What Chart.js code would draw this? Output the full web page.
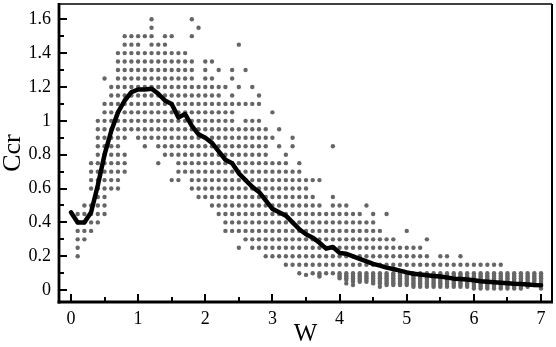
<!DOCTYPE html>
<html><head><meta charset="utf-8">
<script src="https://cdn.jsdelivr.net/npm/chart.js@4.4.1/dist/chart.umd.min.js"></script>
<style>html,body{margin:0;padding:0;background:#fff;}canvas{display:block;}</style>
</head><body>
<canvas id="c" width="556" height="347"></canvas>
<script>
// ---- scatter data: for each row value of Ccr, the W positions (in tenths of W) ----
const rowY = [1.60,1.55,1.50,1.45,1.40,1.35,1.30,1.25,1.20,1.15,1.10,1.05,1.00,0.95,0.90,0.85,0.80,0.75,0.70,0.65,0.60,0.55,0.50,0.45,0.40,0.35,0.30,0.25,0.20,0.15,0.10];
const rowX = [
  [12,18],
  [12,19],
  [8,9,10,11,12,14,15,18],
  [8,9,10,12,13,14,25],
  [7,8,9,10,11,12,13,14,15,16,17],
  [7,8,9,10,11,12,13,14,15,16,17,18,20,21],
  [7,8,9,10,11,12,13,14,15,16,17,18,20,22,24,26],
  [5,7,8,9,10,11,12,13,14,15,16,17,18,20,21,24],
  [6,7,8,9,10,11,12,13,14,15,16,17,18,19,20,21,22,23,25,27],
  [6,7,8,9,10,11,12,13,14,15,16,17,18,19,20,21,22,24,28],
  [5,6,7,8,9,10,11,12,13,14,15,16,17,18,19,20,21,22,23,24,25,26,27,28],
  [5,6,7,8,9,10,11,12,13,14,15,16,17,18,19,20,21,22,23,24,30],
  [4,5,6,7,8,9,10,11,12,13,14,15,16,17,18,19,20,21,22,23,24,26,27,28],
  [4,5,6,7,8,9,10,11,12,13,14,15,16,17,18,19,20,21,22,23,24,25,26,27,28,29,31],
  [4,5,6,7,8,10,11,12,13,14,15,16,17,18,19,20,21,22,23,24,25,26,27,28,29,30,33],
  [4,5,6,7,11,13,14,15,16,17,18,19,20,21,22,23,24,25,26,27,28,29,31,33,39],
  [4,5,6,7,8,14,15,16,17,18,19,20,21,22,23,24,25,26,27,28,29,32],
  [3,4,5,6,7,8,13,16,17,18,19,20,21,22,23,24,25,26,27,28,29,30,31,32,34],
  [3,4,5,6,7,8,16,17,18,19,20,21,22,23,24,25,26,27,28,29,30,31,32,33,34],
  [3,4,5,6,7,15,16,18,19,20,21,22,23,24,25,26,27,28,29,30,31,32,33,34,35,36,37],
  [3,4,5,6,7,18,19,20,21,22,23,24,25,26,27,28,29,30,31,32,33,34,35],
  [4,5,19,20,21,22,23,24,25,26,27,28,29,30,31,32,33,34,35,36,39],
  [2,3,4,5,21,22,23,24,25,26,27,28,29,30,31,32,33,34,35,36,37,39,40,41,44],
  [1,2,3,4,5,22,23,24,25,26,27,28,29,30,31,32,33,34,35,36,37,38,39,40,41,42,43,45,47],
  [1,2,3,4,23,24,25,26,27,28,29,30,31,32,33,34,35,36,37,38,39,40,41,42,43,44,45],
  [1,2,3,23,24,25,26,27,28,29,30,31,32,33,34,35,36,37,38,39,40,41,42,43,44,45,46,50],
  [1,2,26,27,28,29,30,31,32,33,34,35,36,37,38,39,40,41,42,43,44,45,46,47,48,53],
  [1,25,27,28,29,30,31,32,33,34,35,36,37,38,39,40,41,42,43,44,45,46,47,48,49,50,51,52],
  [1,29,30,31,32,33,34,35,36,37,38,39,40,41,42,43,44,45,46,47,48,49,50,51,52,53,55,56,58],
  [32,33,34,35,36,37,38,39,40,41,42,43,44,45,46,47,48,49,50,51,52,53,54,55,56,57,58,59,60,61,62,63,64],
  [34,36,38,39]
];
// ---- low-value columns: W (tenths) and their Ccr values (hundredths) ----
const colX = [35,37,40,41,42,43,44,45,46,47,48,49,50,51,52,53,54,55,56,57,58,59,60,61,62,63,64,65,66,67,68,69,70];
const colY = [
  [9],[8,9,10],[7,8,9,10],[4,6,7,8,9,10],[3,5,6,7,8,9,10],[5,6,7,8,9,10],[5,6,7,8,9,10],[4,5,6,7,8,9,10],
  [2,4,5,6,7,8,9,10],[3,4,5,6,7,8,9,10],[3,4,5,6,7,8,9,10],[3,4,5,6,7,8,9,10],[3,4,5,6,7,8,9,10],
  [2,3,4,5,6,7,8,9,10],[2,3,4,5,6,7,8,9,10],[2,3,4,5,6,7,8,9,10],[2,3,4,5,6,7,8,9,10],[2,3,4,5,6,7,8,9,10],
  [2,3,4,5,6,7,8,9,10],[2,3,4,5,6,7,8,9,10],[2,3,4,5,6,7,8,9,10],[2,3,4,5,6,7,8,9,10],[1,2,3,4,5,6,7,8,9,10],
  [1,2,3,4,5,6,7,8,9,10],[1,2,3,4,5,6,7,8,9,10],[1,2,3,4,5,6,7,8,9,10],[1,2,3,4,5,6,7,8,9,10],[1,2,3,4,5,6,7,8,9,10],
  [1,2,3,4,5,6,7,8,9,10],[1,2,3,4,5,6,7,8,9,10],[2,3,4,5,6,7,8,9,10],[3,4,5,6,7,8,9,10],[1,2,3,4,5,6,7,8,9,10]
];
// ---- mean curve ----
const lineX = [0,0.1,0.2,0.3,0.4,0.5,0.6,0.7,0.8,0.9,1.0,1.1,1.2,1.3,1.4,1.5,1.6,1.7,1.8,1.9,2.0,2.1,2.2,2.3,2.4,2.5,2.6,2.7,2.8,2.9,3.0,3.1,3.2,3.3,3.4,3.5,3.6,3.7,3.8,3.9,4.0,4.1,4.2,4.3,4.4,4.5,4.6,4.7,4.8,4.9,5.0,5.1,5.2,5.3,5.4,5.5,5.6,5.7,5.8,5.9,6.0,6.1,6.2,6.3,6.4,6.5,6.6,6.7,6.8,6.9,7.0];
const lineY = [0.46,0.40,0.40,0.46,0.62,0.80,0.94,1.05,1.12,1.17,1.185,1.185,1.19,1.16,1.12,1.10,1.02,1.04,0.97,0.92,0.90,0.87,0.82,0.77,0.75,0.69,0.65,0.61,0.58,0.53,0.48,0.46,0.44,0.40,0.36,0.33,0.31,0.28,0.245,0.255,0.22,0.215,0.20,0.185,0.17,0.155,0.145,0.133,0.125,0.115,0.105,0.097,0.093,0.088,0.084,0.080,0.075,0.068,0.066,0.063,0.058,0.053,0.050,0.047,0.044,0.041,0.038,0.036,0.034,0.031,0.029];
// ---- ticks ----
const xTicks = [0,1,2,3,4,5,6,7];
const xMinorTicks = [0.5,1.5,2.5,3.5,4.5,5.5,6.5];
const yTicks = [0,0.2,0.4,0.6,0.8,1,1.2,1.4,1.6];
const yTickLabels = ['0','0.2','0.4','0.6','0.8','1','1.2','1.4','1.6'];
const yMinorTicks = [0.1,0.3,0.5,0.7,0.9,1.1,1.3,1.5];
const xTitle = 'W';
const yTitle = 'Ccr';

const dots = [];
rowY.forEach((yv, i) => rowX[i].forEach(t => dots.push({x: t / 10, y: yv})));
colX.forEach((t, i) => colY[i].forEach(h => dots.push({x: t / 10, y: h / 100})));
const curve = lineX.map((xv, i) => ({x: xv, y: lineY[i]}));

const FONT = 'Liberation Serif';

const framePlugin = {
  id: 'framePlugin',
  afterDraw(chart) {
    const {ctx, chartArea: a, scales: {x, y}} = chart;
    ctx.save();
    ctx.strokeStyle = '#000';
    const seg = (x1, y1, x2, y2) => { ctx.beginPath(); ctx.moveTo(x1, y1); ctx.lineTo(x2, y2); ctx.stroke(); };
    ctx.lineWidth = 2;
    xTicks.forEach(v => { const p = Math.round(x.getPixelForValue(v)); seg(p, a.bottom, p, a.bottom - 8); });
    xMinorTicks.forEach(v => { const p = Math.round(x.getPixelForValue(v)); seg(p, a.bottom, p, a.bottom - 5); });
    yTicks.forEach(v => { const p = Math.round(y.getPixelForValue(v)); seg(a.left, p, a.left + 8, p); });
    yMinorTicks.forEach(v => { const p = Math.round(y.getPixelForValue(v)); seg(a.left, p, a.left + 5, p); });
    ctx.lineWidth = 1.5;
    seg(a.left, a.top, a.right, a.top);
    ctx.lineWidth = 2;
    seg(a.right, a.top, a.right, a.bottom);
    ctx.lineWidth = 2.8;
    seg(a.left, a.top - 1, a.left, a.bottom + 1.4);
    seg(a.left - 1.4, a.bottom, a.right + 1, a.bottom);
    ctx.restore();
  }
};

new Chart(document.getElementById('c'), {
  type: 'scatter',
  data: {
    datasets: [
      {data: curve, showLine: true, borderColor: '#000', borderWidth: 4.5, pointRadius: 0,
       borderJoinStyle: 'round', borderCapStyle: 'round', tension: 0, order: 0},
      {data: dots, pointRadius: 2.2, pointBackgroundColor: '#666', pointBorderWidth: 0,
       borderColor: 'transparent', order: 1}
    ]
  },
  options: {
    responsive: false, animation: false, events: [],
    layout: {padding: {top: 1, right: 3, left: 0, bottom: 0}},
    plugins: {legend: {display: false}, tooltip: {enabled: false}},
    scales: {
      x: {
        type: 'linear', min: -0.178, max: 7.163,
        afterFit(s) { s.height = 45; s.paddingLeft = 0; s.paddingRight = 0; },
        afterBuildTicks(s) { s.ticks = xTicks.map(v => ({value: v})); },
        grid: {display: false, drawTicks: false}, border: {display: false},
        ticks: {color: '#000', padding: 6, font: {family: FONT, size: 18}, maxRotation: 0,
                callback: v => String(v)},
        title: {display: true, text: xTitle, color: '#000', font: {family: FONT, size: 25, lineHeight: 1},
                padding: {top: 0, bottom: 0}}
      },
      y: {
        type: 'linear', min: -0.07, max: 1.69,
        afterFit(s) { s.width = 59; s.paddingTop = 0; s.paddingBottom = 0; },
        afterBuildTicks(s) { s.ticks = yTicks.map(v => ({value: v})); },
        grid: {display: false, drawTicks: false}, border: {display: false},
        ticks: {color: '#000', padding: 8, font: {family: FONT, size: 18},
                callback: (v, i) => yTickLabels[i]},
        title: {display: true, text: yTitle, color: '#000', font: {family: FONT, size: 26, lineHeight: 1},
                padding: {top: 0, bottom: 0}}
      }
    }
  },
  plugins: [framePlugin]
});
</script>
</body></html>
